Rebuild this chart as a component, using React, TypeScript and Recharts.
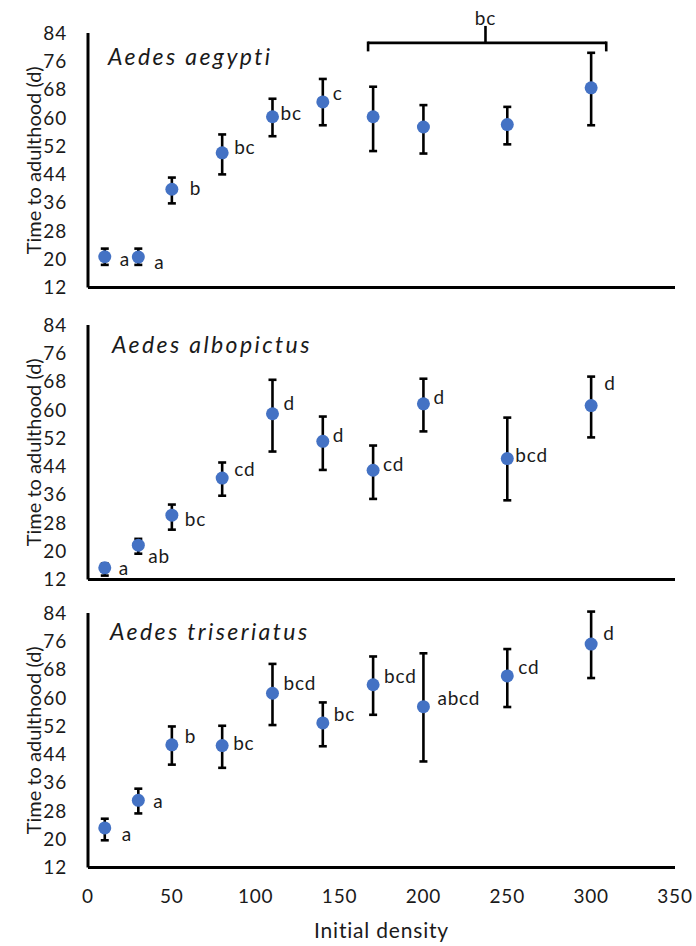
import React from 'react';
import { ScatterChart, Scatter, XAxis, YAxis, ErrorBar, ReferenceLine, ReferenceDot } from 'recharts';

// ---- data ----
const densities = [10, 30, 50, 80, 110, 140, 170, 200, 250, 300];
const yTicks = [12, 20, 28, 36, 44, 52, 60, 68, 76, 84];
const xTicks = [0, 50, 100, 150, 200, 250, 300, 350];

const aegyptiMean = [20.7, 20.6, 39.8, 50.1, 60.3, 64.5, 60.3, 57.4, 58.1, 68.5];
const aegyptiLow = [18.4, 18.4, 35.8, 44.0, 54.8, 57.9, 50.6, 49.9, 52.5, 57.9];
const aegyptiHigh = [23.0, 23.0, 43.1, 55.3, 65.4, 71.0, 68.8, 63.6, 63.1, 78.4];
const aegyptiLetters = ['a', 'a', 'b', 'bc', 'bc', 'c', '', '', '', ''];

const albopictusMean = [15.3, 21.7, 30.2, 40.7, 58.9, 51.1, 42.9, 61.7, 46.2, 61.2];
const albopictusLow = [13.1, 19.3, 26.1, 35.7, 48.2, 43.0, 34.8, 53.9, 34.4, 52.2];
const albopictusHigh = [16.5, 23.5, 33.2, 45.1, 68.5, 58.1, 49.9, 68.8, 57.8, 69.4];
const albopictusLetters = ['a', 'ab', 'bc', 'cd', 'd', 'd', 'cd', 'd', 'bcd', 'd'];

const triseriatusMean = [23.2, 31.0, 46.7, 46.5, 61.3, 52.9, 63.7, 57.5, 66.2, 75.2];
const triseriatusLow = [19.7, 27.3, 41.1, 40.2, 52.3, 46.3, 55.2, 42.0, 57.4, 65.6];
const triseriatusHigh = [25.8, 34.3, 51.9, 52.1, 69.6, 58.7, 71.7, 72.6, 73.8, 84.4];
const triseriatusLetters = ['a', 'a', 'b', 'bc', 'bcd', 'bc', 'bcd', 'abcd', 'cd', 'd'];

// shared letter for the group of densities 170-300 (aegypti)
const groupFrom = 167;
const groupTo = 309;
const groupMid = 237;
const groupLetter = 'bc';

// ---- layout (pixel nudges of the letters, not data) ----
const aegyptiNudge = [[15, 2], [16, 4], [18, -2], [12, -6], [8, -4], [10, -9], [0, 0], [0, 0], [0, 0], [0, 0]];
const albopictusNudge = [[14, 0], [10, 10], [13, 3], [12, -10], [11, -11], [10, -7], [10, -7], [10, -7], [8, -4], [13, -23]];
const triseriatusNudge = [[17, 6], [15, 0], [13, -9], [11, -3], [11, -11], [11, -9], [11, -9], [14, -9], [11, -9], [12, -12]];

const FONT = 'Lato, "Open Sans", sans-serif';
const BLUE = '#4472C4';
const INK = '#1a1a1a';

const Dot = (props: any) => {
  const { cx, cy, payload } = props;
  if (cx == null || cy == null) return null;
  return (
    <g>
      <circle cx={cx} cy={cy} r={6.5} fill={BLUE} />
      {payload.letter ? (
        <text
          x={cx + payload.nudge[0]}
          y={cy + payload.nudge[1]}
          dominantBaseline="central"
          fontSize={19}
          letterSpacing={0.8}
          fontFamily={FONT}
          fill={INK}
        >
          {payload.letter}
        </text>
      ) : null}
    </g>
  );
};

function Panel(props: any) {
  const { means, lows, highs, letters, nudges, bottom, top, title, extra } = props;
  const data = densities.map((d, i) => ({
    x: d,
    y: means[i],
    err: [means[i] - lows[i], highs[i] - means[i]],
    letter: letters[i],
    nudge: nudges[i],
  }));
  const height = bottom ? 366 : 300;
  return (
    <div style={{ position: 'absolute', left: 0, top, width: 696, height }}>
      <ScatterChart width={696} height={height} margin={{ top: 33, right: 21, bottom: 0, left: 0 }}>
        <XAxis
          type="number"
          dataKey="x"
          domain={[0, 350]}
          ticks={xTicks}
          allowDataOverflow
          height={bottom ? 78.5 : 12.5}
          tick={bottom ? { fontSize: 19, fill: INK, fontFamily: FONT, letterSpacing: 0.8 } : false}
          tickLine={false}
          tickSize={6}
          tickMargin={16}
          axisLine={{ stroke: '#000', strokeWidth: 3 }}
          label={
            bottom
              ? { value: 'Initial density', position: 'insideBottom', offset: 8, fontSize: 21, fill: INK, fontFamily: FONT, letterSpacing: 0.8 }
              : undefined
          }
        />
        <YAxis
          type="number"
          dataKey="y"
          domain={[12, 84]}
          ticks={yTicks}
          allowDataOverflow
          width={88}
          tickLine={false}
          tickSize={6}
          tickMargin={15}
          tick={{ fontSize: 19, fill: INK, fontFamily: FONT, letterSpacing: 0.8 }}
          axisLine={{ stroke: '#000', strokeWidth: 3 }}
          label={{
            value: 'Time to adulthood (d)',
            angle: -90,
            position: 'insideLeft',
            offset: 34,
            fontSize: 20,
            fill: INK,
            fontFamily: FONT,
            style: { textAnchor: 'middle' },
          }}
        />
        {extra}
        <Scatter data={data} isAnimationActive={false} shape={Dot}>
          <ErrorBar dataKey="err" direction="y" width={4} stroke="#000" strokeWidth={2.6} />
        </Scatter>
      </ScatterChart>
      <div
        style={{
          position: 'absolute',
          left: title.left,
          top: title.top,
          fontFamily: FONT,
          fontStyle: 'italic',
          fontSize: 23,
          letterSpacing: '2.4px',
          lineHeight: '23px',
          color: INK,
          whiteSpace: 'nowrap',
        }}
      >
        {title.text}
      </div>
    </div>
  );
}

export default function App() {
  const bracketStroke = { stroke: '#000', strokeWidth: 2.6 };
  const bracket = [
    <ReferenceLine key="h" segment={[{ x: groupFrom, y: 81.2 }, { x: groupTo, y: 81.2 }]} ifOverflow="visible" {...bracketStroke} />,
    <ReferenceLine key="l" segment={[{ x: groupFrom, y: 81.6 }, { x: groupFrom, y: 78.8 }]} ifOverflow="visible" {...bracketStroke} />,
    <ReferenceLine key="r" segment={[{ x: groupTo, y: 81.6 }, { x: groupTo, y: 78.8 }]} ifOverflow="visible" {...bracketStroke} />,
    <ReferenceLine key="s" segment={[{ x: groupMid, y: 81.2 }, { x: groupMid, y: 86 }]} ifOverflow="visible" {...bracketStroke} />,
    <ReferenceDot
      key="t"
      x={groupMid}
      y={88.2}
      r={0}
      ifOverflow="visible"
      fill="none"
      stroke="none"
      label={{ value: groupLetter, position: 'center', fontSize: 19, fill: INK, fontFamily: FONT, letterSpacing: 0.8 }}
    />,
  ];
  return (
    <div style={{ position: 'absolute', left: 0, top: 0, width: 696, height: 946, background: '#fff' }}>
      <Panel
        means={aegyptiMean}
        lows={aegyptiLow}
        highs={aegyptiHigh}
        letters={aegyptiLetters}
        nudges={aegyptiNudge}
        top={0}
        title={{ text: 'Aedes aegypti', left: 108, top: 45 }}
        extra={bracket}
      />
      <Panel
        means={albopictusMean}
        lows={albopictusLow}
        highs={albopictusHigh}
        letters={albopictusLetters}
        nudges={albopictusNudge}
        top={292}
        title={{ text: 'Aedes albopictus', left: 112, top: 41 }}
      />
      <Panel
        means={triseriatusMean}
        lows={triseriatusLow}
        highs={triseriatusHigh}
        letters={triseriatusLetters}
        nudges={triseriatusNudge}
        top={580}
        bottom
        title={{ text: 'Aedes triseriatus', left: 110, top: 40 }}
      />
    </div>
  );
}
